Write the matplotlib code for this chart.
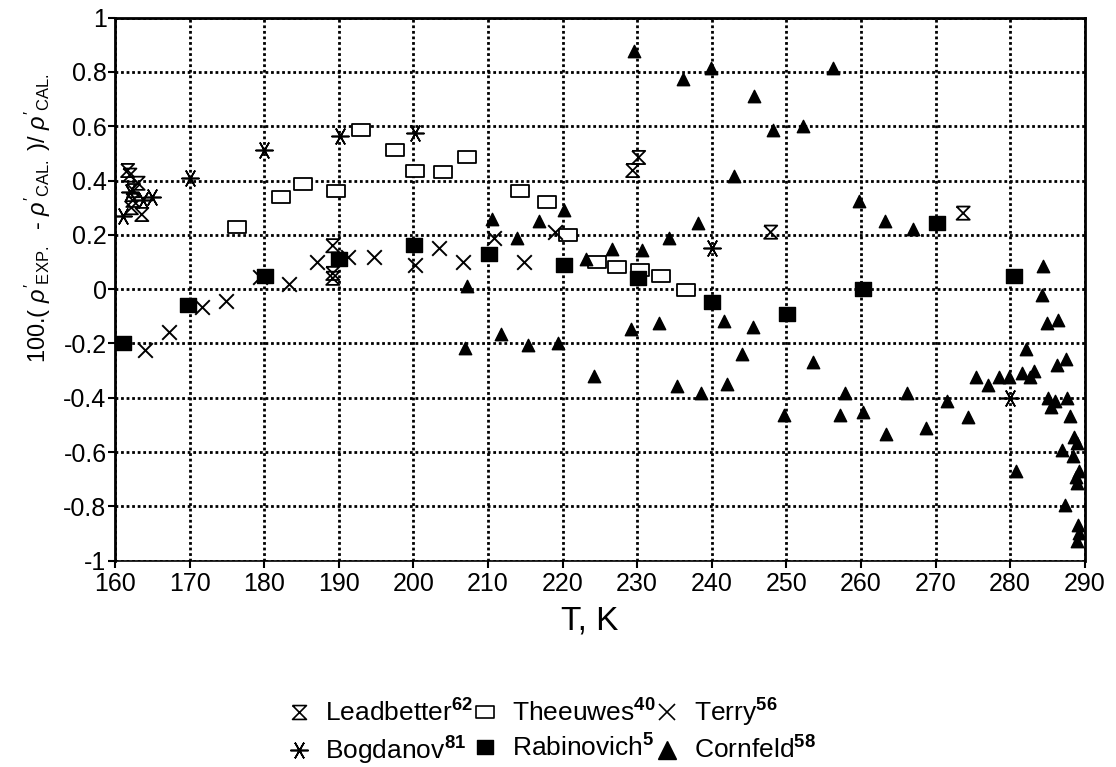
import numpy as np
import matplotlib.pyplot as plt
from matplotlib.path import Path
from matplotlib.lines import Line2D

plt.rcParams['font.family'] = ['Liberation Sans', 'DejaVu Sans']
plt.rcParams['mathtext.fontset'] = 'custom'
plt.rcParams['mathtext.rm'] = 'Liberation Sans'
plt.rcParams['mathtext.it'] = 'Liberation Sans:italic'
plt.rcParams['mathtext.bf'] = 'Liberation Sans:bold'

# Leadbetter
lead_T = [161.7, 162.0, 162.5, 163.1, 162.4, 162.2, 163.6, 189.2, 189.2, 189.2,
          229.4, 230.2, 247.9, 273.7]
lead_y = [0.437, 0.42, 0.363, 0.39, 0.327, 0.30, 0.275, 0.16, 0.058, 0.04,
          0.437, 0.485, 0.21, 0.28]

# Theeuwes
thee_T = [176.3, 182.2, 185.2, 189.6, 193.0, 197.5, 200.2, 204.0, 207.2,
          214.3, 217.9, 220.7, 224.6, 227.3, 230.4, 233.2, 236.5]
thee_y = [0.228, 0.338, 0.389, 0.36, 0.587, 0.514, 0.437, 0.43, 0.485,
          0.36, 0.32, 0.198, 0.099, 0.08, 0.07, 0.048, -0.004]

# Terry
terry_T = [164.0, 167.2, 171.7, 174.9, 179.4, 183.3, 187.1, 191.2, 194.7,
           200.2, 203.4, 206.6, 210.8, 214.8, 219.0]
terry_y = [-0.224, -0.158, -0.066, -0.044, 0.044, 0.018, 0.099, 0.118, 0.118,
           0.088, 0.15, 0.099, 0.19, 0.099, 0.21]

# Bogdanov
bog_T = [161.1, 162.0, 163.8, 165.0, 170.0, 180.0, 190.2, 200.2, 240.0, 280.0]
bog_y = [0.27, 0.356, 0.33, 0.338, 0.41, 0.514, 0.565, 0.576, 0.15, -0.40]

# Rabinovich
rab_T = [161.1, 169.8, 180.1, 190.0, 200.1, 210.1, 220.2, 230.1, 240.0,
         250.1, 260.3, 270.2, 280.5]
rab_y = [-0.198, -0.059, 0.048, 0.11, 0.161, 0.128, 0.088, 0.04, -0.048,
         -0.09, 0.0, 0.242, 0.048]

# Cornfeld
corn_T = [207.2, 206.9, 229.6, 236.1, 239.9, 245.7, 248.2, 252.2, 256.2, 243.0,
          259.7, 210.5, 213.9, 216.8, 220.2, 223.1, 226.6, 230.6, 234.3, 238.1,
          211.7, 215.4, 219.4, 224.2, 229.2, 232.9, 235.3, 238.5, 241.6, 242.0,
          244.0, 245.5, 249.7, 253.6, 257.9, 257.2, 260.3, 263.2, 267.0, 284.4,
          284.3, 284.9, 286.4, 263.4, 266.2, 268.7, 271.5, 274.3, 275.4, 277.0,
          278.5, 279.8, 281.6, 282.7, 283.2, 282.1, 286.3, 287.5, 280.8, 285.1,
          286.0, 285.5, 287.6, 288.0, 288.6, 289.0, 286.9, 288.4, 289.2, 288.8,
          289.0, 287.4, 289.1, 289.2, 289.0]
corn_y = [0.011, -0.217, 0.877, 0.774, 0.815, 0.712, 0.587, 0.602, 0.815, 0.418,
          0.323, 0.26, 0.19, 0.25, 0.293, 0.11, 0.147, 0.143, 0.187, 0.242,
          -0.165, -0.206, -0.198, -0.319, -0.147, -0.125, -0.356, -0.382, -0.117, -0.349,
          -0.239, -0.139, -0.462, -0.27, -0.382, -0.462, -0.451, 0.25, 0.22, 0.085,
          -0.022, -0.125, -0.114, -0.532, -0.382, -0.51, -0.411, -0.47, -0.323, -0.352,
          -0.323, -0.323, -0.308, -0.323, -0.30, -0.22, -0.279, -0.257, -0.668, -0.40,
          -0.411, -0.433, -0.40, -0.466, -0.543, -0.565, -0.594, -0.613, -0.668, -0.69,
          -0.715, -0.796, -0.87, -0.899, -0.928]

x_ticks = np.arange(160, 291, 10)
y_ticks = np.round(np.arange(-1, 1.01, 0.2), 1)
y_ticklabels = ['-1', '-0.8', '-0.6', '-0.4', '-0.2', '0', '0.2', '0.4', '0.6', '0.8', '1']

# custom markers
hourglass = Path([(-1, 1), (1, 1), (-1, -1), (1, -1), (-1, 1)],
                 [Path.MOVETO, Path.LINETO, Path.LINETO, Path.LINETO, Path.LINETO])
rect = Path([(-1.5, -1), (1.5, -1), (1.5, 1), (-1.5, 1), (-1.5, -1)],
            [Path.MOVETO, Path.LINETO, Path.LINETO, Path.LINETO, Path.CLOSEPOLY])
fat_rect = Path([(-1.2, -1), (1.2, -1), (1.2, 1), (-1.2, 1), (-1.2, -1)],
                [Path.MOVETO, Path.LINETO, Path.LINETO, Path.LINETO, Path.CLOSEPOLY])
asterisk = (6, 2, 90)

fig = plt.figure(figsize=(11.16, 7.67), dpi=100)
ax = fig.add_axes([0.103, 0.269, 0.869, 0.708])

ax.scatter(lead_T, lead_y, marker=hourglass, s=90, facecolors='none',
           edgecolors='black', linewidths=1.3, zorder=3)
ax.scatter(thee_T, thee_y, marker=rect, s=150, facecolors='white',
           edgecolors='black', linewidths=1.3, zorder=3)
ax.scatter(terry_T, terry_y, marker='x', s=110, color='black', linewidths=1.4, zorder=3)
ax.scatter(bog_T, bog_y, marker=asterisk, s=150, color='black', linewidths=1.2, zorder=3)
ax.scatter(rab_T, rab_y, marker=fat_rect, s=140, color='black', zorder=3)
ax.scatter(corn_T, corn_y, marker='^', s=80, color='black', zorder=3)

ax.set_xlim(160, 290)
ax.set_ylim(-1, 1)
ax.set_xticks(x_ticks)
ax.set_yticks(y_ticks)
ax.set_yticklabels(y_ticklabels)
ax.grid(True, color='black', linestyle=(0, (1, 1)), linewidth=2)
ax.set_axisbelow(True)
for side in ['left', 'right', 'top']:
    ax.spines[side].set_linewidth(2)
ax.spines['bottom'].set_linewidth(1.2)
ax.tick_params(direction='out', length=5, width=1.5, labelsize=18, pad=1)
ax.tick_params(axis='x', pad=3)

ax.set_xlabel('T, K', fontsize=24)
ax.xaxis.set_label_coords(0.49, -0.082)
ax.set_ylabel(r"100.( $\rho'_{\mathrm{EXP.}}$  - $\rho'_{\mathrm{CAL.}}$ )/ $\rho'_{\mathrm{CAL.}}$",
              fontsize=17)
ax.yaxis.set_label_coords(-0.064, 0.63)

handles = [
    Line2D([], [], marker=hourglass, color='black', markerfacecolor='none',
           linestyle='none', markersize=10, markeredgewidth=1.2),
    Line2D([], [], marker=asterisk, color='black', linestyle='none',
           markersize=13, markeredgewidth=1.2),
    Line2D([], [], marker=rect, color='black', markerfacecolor='white',
           linestyle='none', markersize=13, markeredgewidth=1.2),
    Line2D([], [], marker=fat_rect, color='black', linestyle='none', markersize=12),
    Line2D([], [], marker='x', color='black', linestyle='none',
           markersize=12, markeredgewidth=1.2),
    Line2D([], [], marker='^', color='black', linestyle='none', markersize=13),
]
labels = [r'Leadbetter$^{\mathbf{62}}$', r'Bogdanov$^{\mathbf{81}}$',
          r'Theeuwes$^{\mathbf{40}}$', r'Rabinovich$^{\mathbf{5}}$',
          r'Terry$^{\mathbf{56}}$', r'Cornfeld$^{\mathbf{58}}$']
fig.legend(handles, labels, ncol=3, loc='center', bbox_to_anchor=(0.494, 0.046),
           frameon=False, fontsize=19, handletextpad=0.55, columnspacing=0.0,
           labelspacing=0.3, handlelength=0.9)

fig.savefig('out.png', dpi=100)
